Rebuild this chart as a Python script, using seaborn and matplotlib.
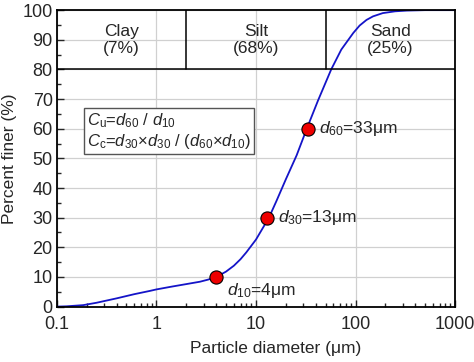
import numpy as np
import pandas as pd
import matplotlib
matplotlib.use("Agg")
import matplotlib.pyplot as plt
import seaborn as sns
from matplotlib.ticker import MultipleLocator, LogLocator

# curve
diameter = [0.1, 0.125, 0.184, 0.25, 0.4, 0.6, 0.86, 1, 1.4, 2, 2.74, 3.3, 4, 5, 6, 7, 8, 10,
            13.5, 16, 20, 25.6, 32.4, 42, 57, 72, 95, 110, 129, 150, 188, 250, 327, 500, 1000]
finer = [0, 0.1, 0.5, 1.3, 2.8, 4.2, 5.3, 5.8, 6.7, 7.6, 8.4, 9.1, 10, 11.8, 13.8, 16, 18.3, 22.6,
         30, 35.5, 43, 51, 60, 69.5, 80, 86.7, 92.3, 94.8, 96.7, 97.9, 99, 99.6, 99.85, 100, 100]

# characteristic sizes
d_points = [4, 13, 33]
d_values = [10, 30, 60]
d_labels = [r"$d_{10}$=4μm", r"$d_{30}$=13μm", r"$d_{60}$=33μm"]

# soil classes
class_names = ["Clay\n(7%)", "Silt\n(68%)", "Sand\n(25%)"]
class_bounds = [0.1, 2, 50, 1000]

sns.set_style("whitegrid")
plt.rcParams['font.family'] = ['Liberation Sans', 'DejaVu Sans']
plt.rcParams['mathtext.fontset'] = 'custom'
plt.rcParams['mathtext.rm'] = 'Liberation Sans'
plt.rcParams['mathtext.it'] = 'Liberation Sans:italic'

curve = pd.DataFrame({"d": diameter, "p": finer})
pts = pd.DataFrame({"d": d_points, "p": d_values})

fig = plt.figure(figsize=(4.74, 3.62), dpi=100)
ax = fig.add_axes([0.120, 0.153, 0.840, 0.819])

sns.lineplot(data=curve, x="d", y="p", color="#1414c8", linewidth=1.3, ax=ax)
sns.scatterplot(data=pts, x="d", y="p", color="#ee0000", edgecolor="black",
                s=90, linewidth=0.8, zorder=5, ax=ax)

ax.set_xscale("log")
ax.set_xlim(0.1, 1000)
ax.set_ylim(0, 100)
ax.set_xticks([0.1, 1, 10, 100, 1000])
ax.set_xticklabels(["0.1", "1", "10", "100", "1000"])
ax.xaxis.set_minor_locator(LogLocator(base=10, subs=np.arange(2, 10)))
ax.yaxis.set_major_locator(MultipleLocator(10))
ax.yaxis.set_minor_locator(MultipleLocator(5))
ax.grid(True, which="major", color="#d0d0d0", linewidth=0.9)
ax.grid(False, which="minor")
ax.tick_params(axis="both", which="major", direction="in", length=5, width=1, labelsize=13,
               bottom=True, left=True, top=False, right=False)
ax.tick_params(axis="x", which="major", pad=7)
ax.tick_params(axis="y", which="major", pad=3)
ax.tick_params(which="minor", direction="in", length=3, width=1,
               bottom=True, left=True, top=False, right=False)
for s in ax.spines.values():
    s.set_color("black")
    s.set_linewidth(1.3)

ax.set_xlabel("Particle diameter (μm)", fontsize=12.5, labelpad=4)
ax.xaxis.set_label_coords(0.55, -0.115)
ax.set_ylabel("Percent finer (%)", fontsize=12.5, labelpad=4)

# class table across the top
ax.axhline(80, color="black", linewidth=1.1, zorder=3)
for b in class_bounds[1:-1]:
    ax.plot([b, b], [80, 100], color="black", linewidth=1.1, zorder=3)
for i, name in enumerate(class_names):
    xc = np.sqrt(class_bounds[i] * class_bounds[i + 1])
    ax.text(xc, 90, name, ha="center", va="center", fontsize=12.5, linespacing=1.2)

for x, y, lab in zip(d_points, d_values, d_labels):
    ax.annotate(lab, (x, y), xytext=(8, -3 if y == 10 else 0), textcoords="offset points",
                ha="left", va="top" if y == 10 else "center", fontsize=12.5)

ax.text(0.2, 59.3, "$C_\\mathrm{u}$=$d_{60}$ / $d_{10}$\n$C_\\mathrm{c}$=$d_{30}$×$d_{30}$ / ($d_{60}$×$d_{10}$)",
        ha="left", va="center", fontsize=12, linespacing=1.15,
        bbox=dict(boxstyle="square,pad=0.2", facecolor="white", edgecolor="#555555", linewidth=1))

fig.savefig("out.png", dpi=100)
